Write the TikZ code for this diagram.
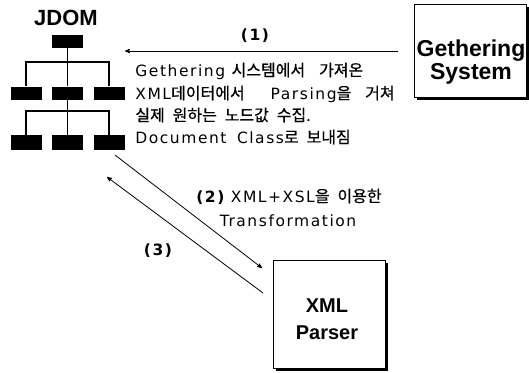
\documentclass[tikz,border=0pt]{standalone}
\usepackage{fontspec}
\setmainfont{DejaVu Sans}[LetterSpace=10]
\newfontfamily\tightsans{Liberation Sans}
\newfontfamily\kr{Noto Sans CJK KR}[WordSpace=2.2,FakeBold=0.6]
\usepackage{tikz}
\usetikzlibrary{arrows,shadows,positioning}

\newcommand{\hg}[1]{{\kr\fontsize{16}{22}\selectfont #1}}

\begin{document}
\begin{tikzpicture}[x=1pt,y=-1pt,>=stealth',line width=0.8pt]
\tikzstyle{leaf}=[rectangle,fill=black,minimum width=31pt,minimum height=13pt,inner sep=0pt]
\tikzstyle{sysbox}=[rectangle,draw=black,line width=1pt,fill=white,
drop shadow={shadow xshift=2.5pt,shadow yshift=-2.5pt,fill=black,opacity=1}]
\tikzstyle{systext}=[align=center,inner sep=0pt]
\tikzstyle{descline}=[anchor=base west,inner sep=0pt,font=\fontsize{15.5}{22}\selectfont]
\tikzstyle{step_label}=[anchor=base,inner sep=0pt,font=\bfseries\fontsize{15.5}{16}\selectfont]
\tikzstyle{treeline}=[-,line width=1.3pt]
\tikzstyle{flow}=[->,line width=0.8pt]
\useasboundingbox (0,0) rectangle (529,372);

% JDOM tree
\node (JDOM_title) at (66,18) {\tightsans\bfseries\fontsize{22}{22}\selectfont JDOM};
\node (box_top) [leaf] at (67.5,41.5) {};
\node (box_a1) [leaf] at (26,93) {};
\node (box_a2) [leaf] at (67.5,93) {};
\node (box_a3) [leaf] at (109,93) {};
\node (box_b1) [leaf,minimum height=15pt] at (26,142.5) {};
\node (box_b2) [leaf,minimum height=15pt] at (67.5,142.5) {};
\node (box_b3) [leaf,minimum height=15pt] at (109,142.5) {};

\coordinate (bar_one) at (67.5,62);
\coordinate (bar_two) at (67.5,111);
\draw[treeline] (box_top) -- (box_a2);
\draw[treeline] (box_a2) -- (box_b2);
\draw[treeline] (box_a1) |- (bar_one) -| (box_a3);
\draw[treeline] (box_b1) |- (bar_two) -| (box_b3);

% systems
\node (gather_sys) [sysbox,minimum width=112pt,minimum height=93pt] at (470.5,50.5) {};
\node (gather_txt) [systext,font=\tightsans\bfseries\fontsize{23}{23}\selectfont]
at (471,62) {Gethering\\System};
\node (xml_parser) [sysbox,minimum width=112pt,minimum height=108pt] at (329,314) {};
\node (xml_txt) [systext,font=\tightsans\bfseries\fontsize{20}{27}\selectfont]
at (327,319) {XML\\Parser};

% (1)
\coordinate (in_one) at (125,51);
\draw[flow,shorten <=16pt] (gather_sys.west |- in_one) -- (in_one);
\node (label_one) [step_label] at (255,40) {(1)};
\node (desc_one) [descline] at (135,76) {Gethering \hg{시스템에서\hspace{6pt} 가져온}};
\node (desc_two) [descline] at (135,99) {XML\hg{데이터에서}\hspace{26pt}Parsing\hg{을\hspace{6pt} 거쳐}};
\node (desc_three) [descline] at (135,121) {\hg{실제 원하는 노드값 수집.}};
\node (desc_four) [descline] at (135,143) {Document\hspace{4pt} Class\hg{로 보내짐}};

% (2) and (3)
\coordinate (out_two) at (115,155);
\coordinate (in_two) at (262,268);
\draw[flow] (out_two) -- (in_two);
\coordinate (out_three) at (263,293);
\coordinate (in_three) at (107,177);
\draw[flow] (out_three) -- (in_three);
\node (label_two) [descline,anchor=base] at (289,202)
{{\bfseries (2)} XML+XSL\hg{을 이용한}};
\node (label_two_b) [descline,anchor=base] at (288,226) {Transformation};
\node (label_three) [step_label] at (158,255) {(3)};

\end{tikzpicture}
\end{document}
